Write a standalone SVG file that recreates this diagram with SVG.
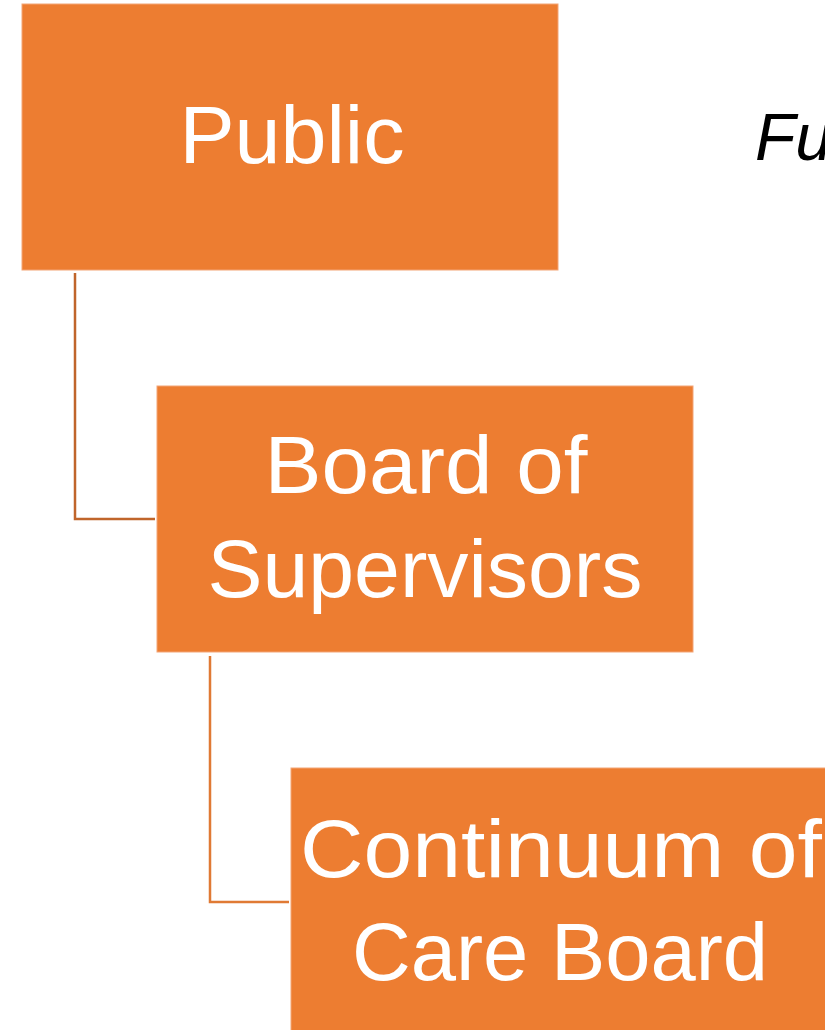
<svg xmlns="http://www.w3.org/2000/svg" width="825" height="1030" viewBox="0 0 825 1030">
<style>
.box{fill:#ED7D31;stroke:#F3A577;stroke-width:1}
.lbl{fill:#FFFFFF;font-family:"Liberation Sans",Arial,sans-serif;font-size:82px;text-anchor:middle}
.conn{fill:none;stroke-width:2.5}
</style>
<rect width="825" height="1030" fill="#FFFFFF"/>
<g id="connectors">
<path class="conn" stroke="#C0652B" d="M75,273 V519 H155"/>
<path class="conn" stroke="#E07A34" d="M210,656 V902 H289"/>
</g>
<g id="public">
<rect class="box" x="22" y="4" width="536" height="266"/>
<text class="lbl" x="292" y="163" textLength="225" lengthAdjust="spacingAndGlyphs">Public</text>
</g>
<g id="board-of-supervisors">
<rect class="box" x="157" y="386" width="536" height="266"/>
<text class="lbl" x="426" y="493" textLength="323" lengthAdjust="spacingAndGlyphs">Board of</text>
<text class="lbl" x="425" y="597" textLength="435" lengthAdjust="spacingAndGlyphs">Supervisors</text>
</g>
<g id="continuum-of-care-board">
<rect class="box" x="291" y="768" width="540" height="270"/>
<text class="lbl" x="561" y="877" textLength="522" lengthAdjust="spacingAndGlyphs">Continuum of</text>
<text class="lbl" x="560" y="980" textLength="416" lengthAdjust="spacingAndGlyphs">Care Board</text>
</g>
<text x="755" y="160" font-family="'Liberation Sans',Arial,sans-serif" font-size="66" font-style="italic" fill="#000000">Fu</text>
</svg>
